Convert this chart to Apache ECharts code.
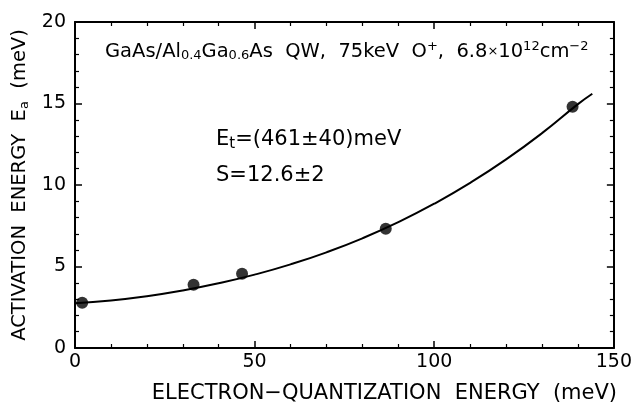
<!DOCTYPE html>
<html>
<head>
<meta charset="utf-8">
<script src="https://cdn.jsdelivr.net/npm/echarts@6/dist/echarts.min.js"></script>
<style>html,body{margin:0;padding:0;background:#fff;}#c{width:635px;height:409px;}</style>
</head>
<body>
<div id="c"></div>
<script>
// Measured data points (electron-quantization energy, activation energy)
const pointX = [2, 33, 46.5, 86.5, 138.5];
const pointY = [2.78, 3.88, 4.55, 7.32, 14.8];
// Fit curve
const fitX = [0, 10, 20, 30, 40, 50, 60, 70, 80, 90, 100, 110, 120, 130, 140, 144];
const fitY = [2.75, 2.92, 3.18, 3.53, 3.97, 4.50, 5.13, 5.87, 6.73, 7.72, 8.85, 10.13, 11.57, 13.18, 14.96, 15.6];
// Axis ticks
const xTicks = [0, 50, 100, 150];
const yTicks = [0, 5, 10, 15, 20];

const FONT = '"DejaVu Sans", "Liberation Sans", Arial, sans-serif';
const chart = echarts.init(document.getElementById('c'), null, {renderer: 'canvas'});

const axisBase = {
  axisLine: {show: true, onZero: false, lineStyle: {color: '#000', width: 2}},
  axisTick: {show: true, inside: true, length: 7, lineStyle: {color: '#000', width: 1.5}},
  minorTick: {show: true, splitNumber: 5, length: 4, lineStyle: {color: '#000', width: 1.2}},
  splitLine: {show: false}
};

chart.setOption({
  animation: false,
  backgroundColor: '#fff',
  grid: {left: 75, right: 16, top: 22, bottom: 51, containLabel: false},
  xAxis: [
    Object.assign({}, axisBase, {
      type: 'value', position: 'bottom', min: xTicks[0], max: xTicks[xTicks.length - 1], interval: 50,
      axisLabel: {color: '#000', fontSize: 19, fontFamily: FONT, margin: 5},
      name: 'ELECTRON\u2212QUANTIZATION  ENERGY  (meV)',
      nameLocation: 'middle', nameGap: 35,
      nameTextStyle: {color: '#000', fontSize: 21, fontFamily: FONT, padding: [0, 0, 0, 80]}
    }),
    Object.assign({}, axisBase, {
      type: 'value', position: 'top', min: xTicks[0], max: xTicks[xTicks.length - 1], interval: 50,
      axisLabel: {show: false}
    })
  ],
  yAxis: [
    Object.assign({}, axisBase, {
      type: 'value', position: 'left', min: yTicks[0], max: yTicks[yTicks.length - 1], interval: 5,
      axisLabel: {color: '#000', fontSize: 19, fontFamily: FONT, margin: 9},
      name: 'ACTIVATION  ENERGY  E{sub|a}  (meV)',
      nameLocation: 'middle', nameGap: 35, nameRotate: 90,
      nameTextStyle: {color: '#000', fontSize: 19.5, fontFamily: FONT,
        rich: {sub: {fontSize: 13, fontFamily: FONT, color: '#000', padding: [9, 0, 0, 0]}}}
    }),
    Object.assign({}, axisBase, {
      type: 'value', position: 'right', min: yTicks[0], max: yTicks[yTicks.length - 1], interval: 5,
      axisLabel: {show: false}
    })
  ],
  series: [
    {
      type: 'line', xAxisIndex: 0, yAxisIndex: 0,
      data: fitX.map((x, i) => [x, fitY[i]]),
      smooth: true, showSymbol: false, symbol: 'none',
      lineStyle: {color: '#000', width: 2}
    },
    {
      type: 'scatter', xAxisIndex: 0, yAxisIndex: 0,
      data: pointX.map((x, i) => [x, pointY[i]]),
      symbol: 'circle', symbolSize: 12,
      itemStyle: {color: '#000'}
    }
  ],
  graphic: [
    {
      type: 'text', left: 105, top: 40,
      style: {
        text: 'GaAs/Al{sub|0.4}Ga{sub|0.6}As  QW,  75keV  O{sup|+},  6.8{sm|×}10{sup|12}cm{sup|\u22122}',
        fill: '#000', font: '19.5px ' + FONT,
        rich: {
          sub: {fontSize: 13, fontFamily: FONT, fill: '#000', padding: [8, 0, 0, 0]},
          sup: {fontSize: 13, fontFamily: FONT, fill: '#000', padding: [0, 0, 10, 0]},
          sm: {fontSize: 13, fontFamily: FONT, fill: '#000'}
        }
      }
    },
    {
      type: 'text', left: 216, top: 129,
      style: {
        text: 'E{sub|t}=(461±40)meV',
        fill: '#000', font: '21px ' + FONT,
        rich: {sub: {fontSize: 15, fontFamily: FONT, fill: '#000', padding: [9, 0, 0, 0]}}
      }
    },
    {
      type: 'text', left: 216, top: 165,
      style: {text: 'S=12.6±2', fill: '#000', font: '21px ' + FONT}
    }
  ]
});
</script>
</body>
</html>
